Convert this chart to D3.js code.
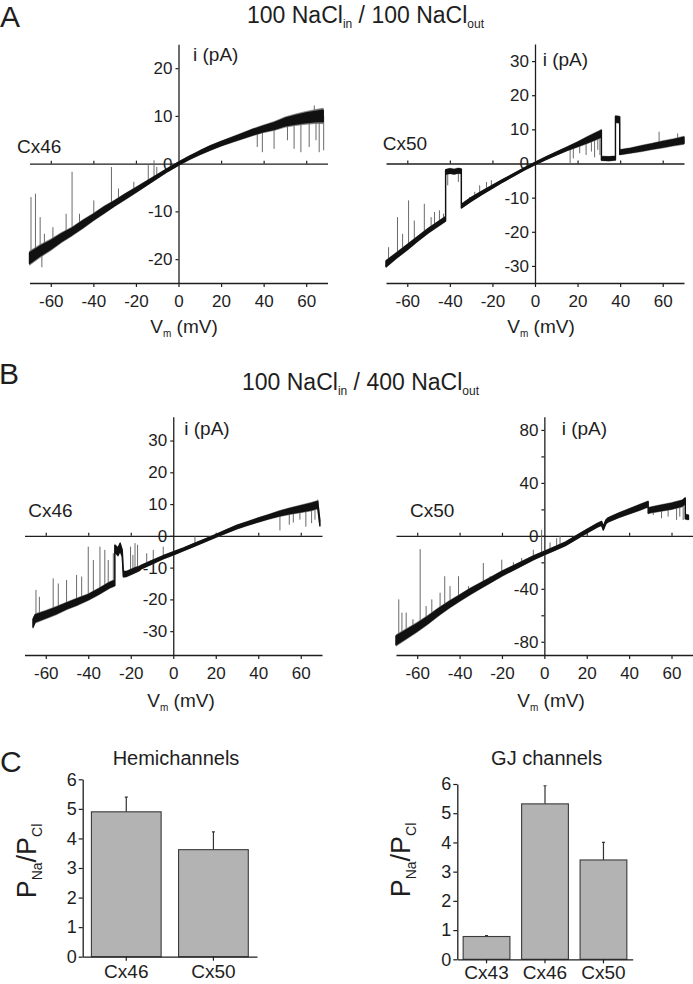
<!DOCTYPE html>
<html><head><meta charset="utf-8">
<script src="https://cdn.jsdelivr.net/npm/d3@7"></script>
<style>
body{margin:0;background:#fff}
svg{display:block;font-family:"Liberation Sans",Arial,sans-serif}
</style>
</head><body>
<svg id="c" width="693" height="984"></svg>
<script>
// ---------------- DATA ----------------
const vTicks = [-60, -40, -20, 0, 20, 40, 60];

// Panel A, Cx46 (100 NaCl in / 100 NaCl out)
const aCx46V = [-70,-65,-60,-55,-50,-45,-40,-35,-30,-25,-20,-15,-10,-5,0,5,10,15,20,25,30,35,40,45,50,55,60,65,68];
const aCx46I = [-19.8,-18.3,-17.0,-15.5,-14.2,-12.7,-11.2,-9.7,-8.3,-6.9,-5.5,-4.1,-2.7,-1.3,0,1.2,2.3,3.3,4.2,5.0,5.8,6.6,7.3,7.9,8.7,9.2,9.6,9.9,10.0];
const aCx46Noise = [1.1,1.0,0.9,0.8,0.7,0.7,0.6,0.6,0.5,0.5,0.45,0.4,0.35,0.3,0.3,0.3,0.35,0.4,0.4,0.45,0.5,0.55,0.6,0.7,0.8,0.9,1.0,1.1,1.2];
const aCx46SpikeV = [-69.3,-67.2,-65,-64.2,-63,-59,-52.8,-50,-46.5,-39.8,-37,-31.5,-30,-28.2,-23.6,-21,-14.2,-11.5,-10.2,37,39.4,44.9,51.2,54.3,57.5,61.4,63.8,64.6,66.1,67,68.2];
const aCx46SpikeI = [-7.0,-6.3,-11.2,-21.7,-14.7,-13.3,-10.5,-1.7,-10.5,-7.7,-10.5,-0.7,-7.7,-5.2,-6.3,-3.8,-0.3,0.7,-0.7,3.5,2.4,3.1,4.9,3.1,2.4,3.5,12.2,4.9,2.4,11.2,2.8];

// Panel A, Cx50
const aCx50V = [-70,-65,-60,-55,-50,-45,-42,-42,-40,-38,-36,-34.6,-34.6,-30,-25,-20,-15,-10,-5,0,5,10,15,20,25,30,31.2,31.2,35,37.8,37.8,39.8,39.8,45,50,55,60,65,70];
const aCx50I = [-29.4,-26.9,-24.5,-22.0,-19.6,-17.5,-16.2,-2.5,-2.2,-2.4,-2.1,-2.3,-12.5,-10.5,-8.6,-6.8,-5.0,-3.3,-1.6,0,1.5,2.9,4.3,5.6,7.0,8.4,8.8,1.5,1.4,1.6,13.0,12.8,3.3,3.8,4.4,5.0,5.6,6.2,6.8];
const aCx50Noise = [0.8,0.7,0.7,0.6,0.6,0.6,0.6,0.6,0.6,0.6,0.6,0.6,0.5,0.5,0.45,0.4,0.35,0.3,0.3,0.3,0.35,0.4,0.45,0.6,0.8,0.9,0.9,0.5,0.5,0.5,0.8,0.8,0.6,0.6,0.7,0.7,0.8,0.8,0.9];
const aCx50SpikeV = [-68.8,-64.6,-62.2,-59.4,-56.7,-52,-48.8,-47.2,-44.9,-43,-41,-36,-30.7,-28.3,-26,-22.8,-20.5,16.5,18,21,24,26.5,28,29.5,30.5,58.3,67];
const aCx50SpikeI = [-24.5,-15.7,-20.6,-10.8,-16.7,-11.8,-15.7,-14.2,-13.7,-14.7,-6.4,-5.4,-9.8,-8.3,-6.4,-5.4,-4.9,0,1.5,3,2.5,3.5,1.8,4,2.5,9.3,8.8];

// Panel B, Cx46 (100 NaCl in / 400 NaCl out)
const bCx46V = [-66,-65,-60,-55,-50,-45,-40,-35,-30,-27.5,-27.5,-26,-25,-24,-23.5,-22,-20,-18,-16,-15,-10,-5,0,5,10,15,20,25,30,35,40,45,50,55,60,65,68,69];
const bCx46I = [-27.5,-26,-24.8,-23.5,-22.0,-20.7,-19.3,-17.5,-15.5,-14.8,-4.0,-5.0,-3.5,-5.5,-12,-12,-11.4,-10.8,-10.3,-9.8,-8.3,-6.8,-5.5,-4.2,-2.8,-1.4,0,1.4,2.8,3.9,5.0,6.0,7.0,7.8,8.5,9.2,9.8,4.0];
const bCx46Noise = [1.2,1.1,1.0,1.0,0.9,0.9,0.8,0.8,0.8,0.8,1.0,1.1,1.1,1.0,0.8,0.7,0.7,0.7,0.6,0.5,0.5,0.45,0.45,0.4,0.4,0.4,0.4,0.45,0.5,0.5,0.55,0.6,0.7,0.8,0.9,1.0,1.0,0.8];
const bCx46SpikeV = [-64.6,-63,-56.5,-54.1,-50.2,-45.5,-43.1,-40,-37.6,-34.5,-32.2,-30.6,-28.2,-20.1,-19,-18,-16.8,-12.5,-9.4,-4.7,10.2,50.2,54.6,56.5,59.6,62.4,65.1,66.7,68];
const bCx46SpikeI = [-17,-19.2,-13.4,-15,-13.9,-12.3,-12.8,-3.4,-7.6,-3.4,-4.4,-7.6,-5.5,-3.4,-6,-2.3,-2.8,-5.5,-4.4,-3.4,-0.2,1.7,3.5,4.2,5.1,2.9,4,5.1,11.4];

// Panel B, Cx50
const bCx50V = [-70,-65,-60,-55,-50,-45,-40,-35,-30,-25,-20,-15,-10,-5,0,5,10,15,20,25,27,27.8,29,30,35,40,45,49,49,50,55,60,65,66.5,66.5,68];
const bCx50I = [-79,-74,-69,-63.5,-57.5,-52,-47,-42,-37.5,-33,-28.5,-24.5,-20.5,-16.5,-13,-9.5,-6,-1.2,3.5,8,9.5,5.8,10.5,12,15.5,18.5,21.5,24,19,19.5,21,22.5,24.5,26.5,14.5,14];
const bCx50Noise = [3.2,3,2.8,2.6,2.4,2.2,2,2,1.8,1.7,1.6,1.5,1.4,1.3,1.2,1.2,1.2,1.2,1.2,1.3,1.3,1.3,1.3,1.4,1.5,1.6,1.8,1.8,1.8,1.8,1.9,2,2,2,1.5,1.5];
const bCx50SpikeV = [-68.7,-67.2,-65.2,-62,-58.6,-55.8,-53.1,-49.2,-47,-44.5,-40.5,-35.8,-28.8,-25.6,-20.1,-14.6,-10.7,-5.2,-1.3,2.7,5.8,7.4,51.4,55.3,58.4,62.4,63.9,65.5];
const bCx50SpikeI = [-48,-58,-58,-63,-10,-53,-48,-43,-30.5,-38,-30.5,-38,-20.5,-30.5,-18,-20,-16.8,-10.5,4.5,-5,-1.8,0,15.8,13.3,14.5,12,14.5,12];

// Panel C, permeability ratios
const hemiCats = ["Cx46", "Cx50"];
const hemiMean = [4.9, 3.62];
const hemiErr = [0.5, 0.6];
const gjCats = ["Cx43", "Cx46", "Cx50"];
const gjMean = [0.78, 5.32, 3.4];
const gjErr = [0.03, 0.62, 0.6];
const ratioTicks = [0, 1, 2, 3, 4, 5, 6];

// ---------------- DRAWING ----------------
const svg = d3.select("#c");
const INK = "#1e1e1e";

function traceAt(V, I, v) {
  for (let k = 0; k < V.length - 1; k++) {
    if (V[k] === V[k + 1]) continue;
    if (v >= V[k] && v <= V[k + 1]) {
      const t = (v - V[k]) / (V[k + 1] - V[k]);
      return I[k] + t * (I[k + 1] - I[k]);
    }
  }
  return v < V[0] ? I[0] : I[I.length - 1];
}

function subText(sel, parts) {
  let prevSub = false;
  const sd = +sel.attr("data-sd"), ss = sel.attr("data-ss");
  parts.forEach(([t, sub]) => {
    const ts = sel.append("tspan").text(t);
    if (sub) ts.attr("font-size", ss);
    if (sub && !prevSub) ts.attr("dy", sd);
    else if (!sub && prevSub) ts.attr("dy", -sd);
    prevSub = sub;
  });
}

function styleAxis(g, fs) {
  g.selectAll("path.domain").attr("stroke", INK).attr("stroke-width", 1.3);
  g.selectAll(".tick line").attr("stroke", INK).attr("stroke-width", 1.2);
  g.selectAll(".tick text").attr("fill", INK).attr("font-size", fs).attr("font-family", "Liberation Sans, Arial, sans-serif");
}

function ivPanel(o) {
  const x = d3.scaleLinear().domain([-70, 70]).range([o.x0, o.x1]);
  const y = d3.scaleLinear().domain(o.yDom).range([o.yB, o.yT]);
  const g = svg.append("g");

  const bx = g.append("g").attr("transform", `translate(0,${o.yB})`)
    .call(d3.axisBottom(x).tickValues(vTicks).tickSize(4).tickSizeOuter(0).tickPadding(8).tickFormat(d => String(d)));
  styleAxis(bx, 17);

  const zx = g.append("g").attr("transform", `translate(0,${y(0)})`)
    .call(d3.axisTop(x).tickValues(vTicks.filter(v => v !== 0)).tickSize(3).tickSizeOuter(0).tickFormat(""));
  styleAxis(zx, 17);

  const yax = d3.axisLeft(y).tickValues(o.yTicks).tickSize(3).tickSizeOuter(0).tickPadding(3)
    .tickFormat(d => (o.yLabelStep && d % o.yLabelStep !== 0) ? "" : String(d));
  const ya = g.append("g").attr("transform", `translate(${x(0)},0)`).call(yax);
  styleAxis(ya, 17);

  const pts = o.V.map((v, i) => ({ v, i: o.I[i], n: o.N[i] }));
  const halo = d3.area().x(d => x(d.v)).y0(d => y(d.i - d.n * 1.35)).y1(d => y(d.i + d.n * 1.35));
  const band = d3.area().x(d => x(d.v)).y0(d => y(d.i - d.n)).y1(d => y(d.i + d.n));
  g.append("path").datum(pts).attr("d", halo).attr("fill", "#707070").attr("stroke", "#707070").attr("stroke-width", 0.6);

  const sp = o.SV.map((v, k) => ({ v, e: o.SI[k], b: traceAt(o.V, o.I, v) }));
  g.selectAll(null).data(sp).enter().append("line")
    .attr("x1", d => x(d.v)).attr("x2", d => x(d.v))
    .attr("y1", d => y(d.b)).attr("y2", d => y(d.e))
    .attr("stroke", "#6a6a6a").attr("stroke-width", 1);

  g.append("path").datum(pts).attr("d", band).attr("fill", "#111").attr("stroke", "#111").attr("stroke-width", 1.4).attr("stroke-linejoin", "round");

  g.append("text").attr("x", o.iLab[0]).attr("y", o.iLab[1]).attr("font-size", 19).attr("fill", INK).text("i (pA)");
  g.append("text").attr("x", o.cxLab[0]).attr("y", o.cxLab[1]).attr("font-size", 19).attr("fill", INK).text(o.name);
  const vm = g.append("text").attr("x", o.vmLab[0]).attr("y", o.vmLab[1]).attr("font-size", 19)
    .attr("fill", INK).attr("text-anchor", "middle").attr("data-sd", 4).attr("data-ss", 10);
  subText(vm, [["V", false], ["m", true], [" (mV)", false]]);
}

ivPanel({ x0: 29.5, x1: 327.5, yT: 44.3, yB: 283, yDom: [-25, 25], yTicks: [-20, -10, 0, 10, 20],
  V: aCx46V, I: aCx46I, N: aCx46Noise, SV: aCx46SpikeV, SI: aCx46SpikeI,
  name: "Cx46", iLab: [193, 61], cxLab: [17, 153], vmLab: [184, 333] });
ivPanel({ x0: 386, x1: 684, yT: 44, yB: 283, yDom: [-35, 35], yTicks: [-30, -20, -10, 0, 10, 20, 30],
  V: aCx50V, I: aCx50I, N: aCx50Noise, SV: aCx50SpikeV, SI: aCx50SpikeI,
  name: "Cx50", iLab: [542.7, 66], cxLab: [382.7, 150], vmLab: [541, 333] });
ivPanel({ x0: 24.5, x1: 322, yT: 416.7, yB: 655, yDom: [-37.5, 37.5], yTicks: [-30, -20, -10, 0, 10, 20, 30],
  V: bCx46V, I: bCx46I, N: bCx46Noise, SV: bCx46SpikeV, SI: bCx46SpikeI,
  name: "Cx46", iLab: [184.3, 435], cxLab: [28.3, 517], vmLab: [181, 707] });
ivPanel({ x0: 396, x1: 692.7, yT: 416.7, yB: 655, yDom: [-90, 90], yTicks: [-80, -60, -40, -20, 0, 20, 40, 60, 80], yLabelStep: 40,
  V: bCx50V, I: bCx50I, N: bCx50Noise, SV: bCx50SpikeV, SI: bCx50SpikeI,
  name: "Cx50", iLab: [561.7, 435], cxLab: [410, 517], vmLab: [551, 707] });

[["A", 0, 27], ["B", -1, 384], ["C", 0, 772]].forEach(([t, x, y]) =>
  svg.append("text").attr("x", x).attr("y", y).attr("font-size", 30).attr("fill", INK).text(t));

function titleText(x, y, outer) {
  const t = svg.append("text").attr("x", x).attr("y", y).attr("font-size", 23).attr("fill", INK)
    .attr("data-sd", 5).attr("data-ss", 12);
  subText(t, [["100 NaCl", false], ["in", true], [" / " + outer + " NaCl", false], ["out", true]]);
}
titleText(247, 23, 100);
titleText(242, 390, 400);

function barPanel(o) {
  const x = d3.scaleBand().domain(o.cats).range([o.x0, o.x1]).paddingInner(0.2).paddingOuter(0.1);
  const y = d3.scaleLinear().domain([0, 6]).range([o.yB, o.yT]);
  const g = svg.append("g");
  const data = o.cats.map((c, i) => ({ c, m: o.mean[i], e: o.err[i] }));

  g.selectAll(null).data(data).enter().append("path")
    .attr("d", d => {
      const cx = x(d.c) + x.bandwidth() / 2;
      return `M${cx},${y(d.m)}V${y(d.m + d.e)}M${cx - 1.5},${y(d.m + d.e)}H${cx + 1.5}`;
    })
    .attr("stroke", "#333").attr("stroke-width", 1.2).attr("fill", "none");

  g.selectAll(null).data(data).enter().append("rect")
    .attr("x", d => x(d.c)).attr("width", x.bandwidth())
    .attr("y", d => y(d.m)).attr("height", d => y(0) - y(d.m))
    .attr("fill", "#b3b3b3").attr("stroke", "#3a3a3a").attr("stroke-width", 1.1);

  const ya = g.append("g").attr("transform", `translate(${o.x0},0)`)
    .call(d3.axisLeft(y).tickValues(ratioTicks).tickSize(4).tickSizeOuter(0).tickPadding(2).tickFormat(d => String(d)));
  styleAxis(ya, 18);
  const xa = g.append("g").attr("transform", `translate(0,${o.yB})`)
    .call(d3.axisBottom(x).tickSize(4).tickSizeOuter(0).tickPadding(o.xPad));
  styleAxis(xa, 19);

  g.append("text").attr("x", o.title[1]).attr("y", 765).attr("font-size", 20).attr("fill", INK)
    .attr("text-anchor", "middle").text(o.title[0]);

  const yl = g.append("text").attr("transform", `translate(${o.ylab[0]},${o.ylab[1]}) rotate(-90)`)
    .attr("font-size", 27).attr("fill", INK).attr("text-anchor", "middle").attr("data-sd", 6).attr("data-ss", 14);
  subText(yl, [["P", false], ["Na", true], ["/P", false], ["Cl", true]]);
}

barPanel({ cats: hemiCats, mean: hemiMean, err: hemiErr, x0: 82.7, x1: 257, yT: 779.3, yB: 956.7, xPad: 4,
  title: ["Hemichannels", 176], ylab: [36, 861] });
barPanel({ cats: gjCats, mean: gjMean, err: gjErr, x0: 457.3, x1: 632.7, yT: 784, yB: 959.3, xPad: 2,
  title: ["GJ channels", 546.7], ylab: [410, 860] });
</script>
</body></html>
